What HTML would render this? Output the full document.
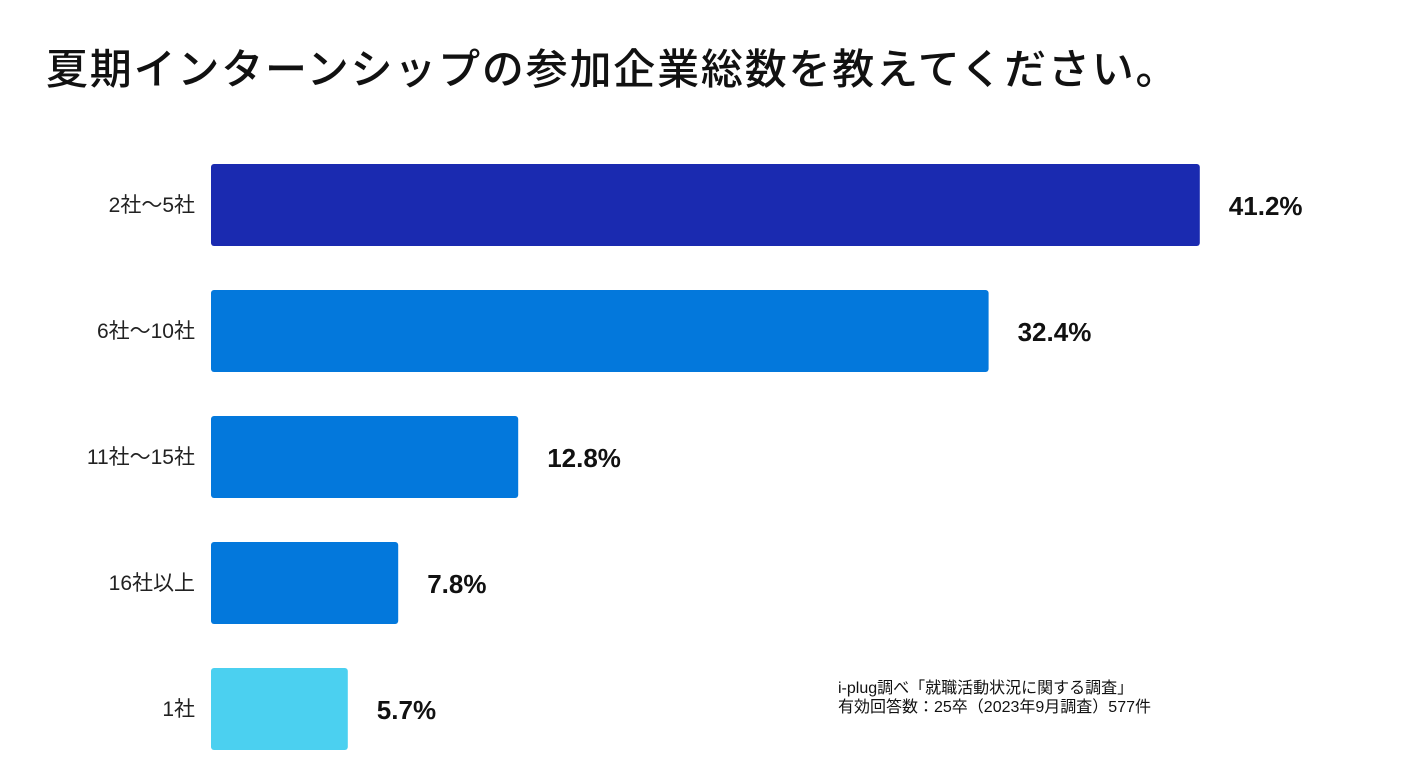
<!DOCTYPE html>
<html lang="ja"><head><meta charset="utf-8"><style>
body{margin:0;width:1414px;height:778px;background:#fff;overflow:hidden;font-family:"Liberation Sans","Noto Sans CJK JP",sans-serif;}
#title{position:absolute;left:46px;top:36px;font-size:42px;color:#111;white-space:nowrap;letter-spacing:1.8px;font-weight:500}
.note{position:absolute;left:838px;font-size:16px;color:#111;white-space:nowrap;line-height:19px}
</style></head><body>
<div id="title">夏期インターンシップの参加企業総数を教えてください。</div>
<svg id="chart" width="1414" height="778" style="position:absolute;left:0;top:0"></svg>
<div class="note" style="top:679px">i-plug調べ「就職活動状況に関する調査」</div>
<div class="note" style="top:698px">有効回答数：25卒（2023年9月調査）577件</div>
<script>
const categories=["2社～5社","6社～10社","11社～15社","16社以上","1社"];
const values=[41.2,32.4,12.8,7.8,5.7];
const colors=["#1a2ab0","#0378dc","#0378dc","#0378dc","#4bd0f0"];
const svg=document.getElementById('chart');
const NS="http://www.w3.org/2000/svg";
const x0=211, pxPer=24.0;
const xScale=v=>v*pxPer;
const yTop=i=>164+i*126;
const bh=82;
categories.forEach((c,i)=>{
  const r=document.createElementNS(NS,'rect');
  r.setAttribute('x',x0);r.setAttribute('y',yTop(i));
  r.setAttribute('width',xScale(values[i]));r.setAttribute('height',bh);
  r.setAttribute('rx',3);r.setAttribute('fill',colors[i]);
  
  
  svg.appendChild(r);
  const t=document.createElementNS(NS,'text');
  t.setAttribute('x',195);t.setAttribute('y',yTop(i)+bh/2+7);
  t.setAttribute('text-anchor','end');t.setAttribute('font-size','21');t.setAttribute('fill','#222');
  t.textContent=c;
  
  
  svg.appendChild(t);
  const v=document.createElementNS(NS,'text');
  v.setAttribute('x',x0+xScale(values[i])+29);v.setAttribute('y',yTop(i)+bh/2+10);
  v.setAttribute('font-size','26');v.setAttribute('font-weight','bold');v.setAttribute('fill','#111');
  v.textContent=values[i].toFixed(1)+'%';
  
  
  svg.appendChild(v);
});
</script>
</body></html>
